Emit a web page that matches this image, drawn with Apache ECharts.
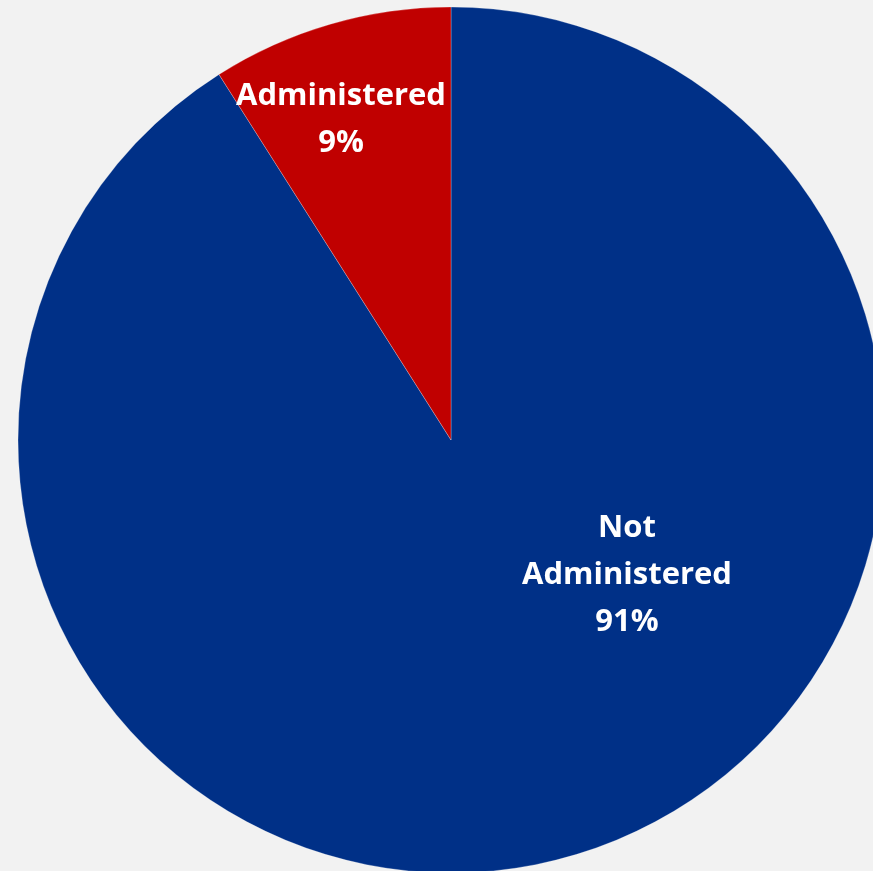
<!DOCTYPE html>
<html>
<head>
<meta charset="utf-8">
<script src="https://cdn.jsdelivr.net/npm/echarts@6/dist/echarts.min.js"></script>
<style>
  html, body { margin: 0; padding: 0; background: #f2f2f2; }
  #chart { width: 873px; height: 871px; }
</style>
</head>
<body>
<div id="chart"></div>
<script>
// Share of cases by administration status
const categories = ['Not Administered', 'Administered'];
const values = [91, 9];
const sliceColors = ['#003087', '#C00000'];
// label anchor points (pixels) for each slice's text block
const labelAnchors = [[627, 575], [341, 120]];

const chart = echarts.init(document.getElementById('chart'));
chart.setOption({
  backgroundColor: '#f2f2f2',
  animation: false,
  series: [{
    type: 'pie',
    center: [451, 440],
    radius: 433,
    startAngle: 90,
    clockwise: true,
    label: {
      show: true,
      position: 'inside',
      color: '#ffffff',
      fontFamily: '"Open Sans", sans-serif',
      fontWeight: 'bold',
      fontSize: 31,
      lineHeight: 47,
      formatter: function (p) {
        const name = p.dataIndex === 0 ? 'Not\nAdministered' : p.name;
        return name + '\n' + p.value + '%';
      }
    },
    labelLine: { show: false },
    labelLayout: function (params) {
      const a = labelAnchors[params.dataIndex];
      return { x: a[0], y: a[1], align: 'center', verticalAlign: 'middle' };
    },
    itemStyle: { borderColor: 'rgba(255,255,255,0.5)', borderWidth: 0.5 },
    emphasis: { disabled: true },
    data: categories.map(function (c, i) {
      return { name: c, value: values[i], itemStyle: { color: sliceColors[i] } };
    })
  }]
});
</script>
</body>
</html>
